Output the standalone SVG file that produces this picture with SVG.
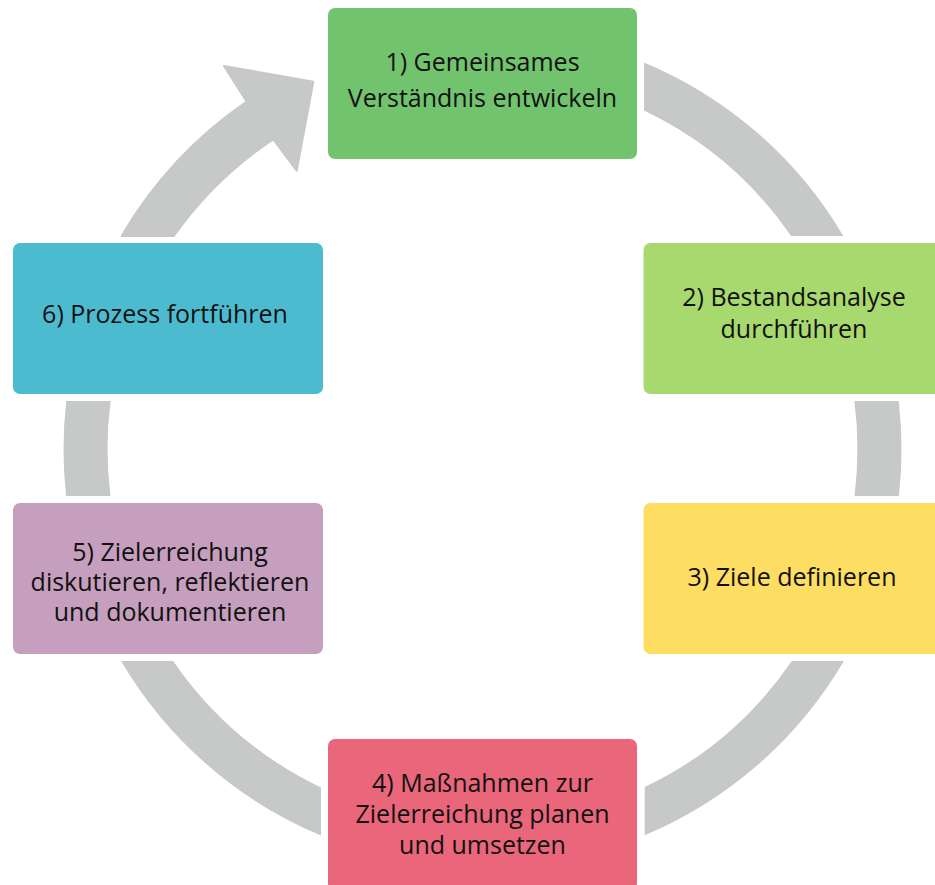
<svg xmlns="http://www.w3.org/2000/svg" width="935" height="885" viewBox="0 0 935 885">
<style>
.ring{fill:#c6c9c8}
.box{stroke:none}
.t{font-family:"Open Sans","Noto Sans","Liberation Sans",sans-serif;font-size:25px;fill:#111;text-anchor:middle}
</style>
<rect width="935" height="885" fill="#ffffff"/>
<g id="connectors">
<path class="ring" d="M644,62.4 A419,419 0 0 1 843.3,236 L791.1,236 A375,375 0 0 0 644,110.6 Z"/>
<path class="ring" d="M898.7,401 A419,419 0 0 1 898.9,496 L854.5,496 A375,375 0 0 0 854.4,401 Z"/>
<path class="ring" d="M843.9,661 A419,419 0 0 1 644.7,835.3 L644.7,787.1 A375,375 0 0 0 791.8,661 Z"/>
<path class="ring" d="M321,835.6 A419,419 0 0 1 121.1,661 L173.2,661 A375,375 0 0 0 321,787.4 Z"/>
<path class="ring" d="M66.1,496 A419,419 0 0 1 66.3,401 L110.6,401 A375,375 0 0 0 110.5,496 Z"/>
<path class="ring" stroke="#c6c9c8" stroke-width="2" stroke-linejoin="round" d="M121.7,236 A419,419 0 0 1 246.7,101.7 L224,66 L313.3,81.7 L296.7,170.7 L273.3,139.3 A375,375 0 0 0 173.9,236 Z"/>
</g>
<g id="node1">
<rect class="box" x="328" y="8" width="309" height="151" rx="7" fill="#72c36e"/>
<text class="t" x="482.5" y="71">1) Gemeinsames</text>
<text class="t" x="482.5" y="107">Verständnis entwickeln</text>
</g>
<g id="node2">
<rect class="box" x="643.5" y="243" width="310" height="151" rx="7" fill="#a8d96e"/>
<text class="t" x="794" y="306">2) Bestandsanalyse</text>
<text class="t" x="794" y="338">durchführen</text>
</g>
<g id="node3">
<rect class="box" x="643.5" y="503" width="310" height="151" rx="7" fill="#fddd62"/>
<text class="t" x="792" y="586">3) Ziele definieren</text>
</g>
<g id="node4">
<rect class="box" x="328" y="739" width="309" height="151" rx="7" fill="#e9667b"/>
<text class="t" x="482.5" y="792">4) Maßnahmen zur</text>
<text class="t" x="482.5" y="823">Zielerreichung planen</text>
<text class="t" x="482.5" y="854">und umsetzen</text>
</g>
<g id="node5">
<rect class="box" x="13" y="503" width="310" height="151" rx="7" fill="#c59fbd"/>
<text class="t" x="170" y="561">5) Zielerreichung</text>
<text class="t" x="170" y="591">diskutieren, reflektieren</text>
<text class="t" x="170" y="621">und dokumentieren</text>
</g>
<g id="node6">
<rect class="box" x="13" y="243" width="310" height="151" rx="7" fill="#4dbbcf"/>
<text class="t" x="165" y="323">6) Prozess fortführen</text>
</g>
</svg>
